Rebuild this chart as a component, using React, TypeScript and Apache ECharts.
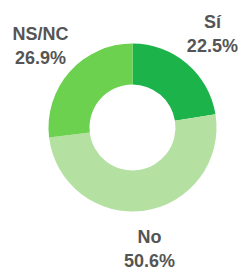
import React, { useEffect, useRef } from "react";
import * as echarts from "echarts";

const categories = ["Sí", "No", "NS/NC"];
const values = [22.5, 50.6, 26.9];
const colors = ["#1db34b", "#b4e0a2", "#6cd14f"];

export default function App() {
  const ref = useRef<HTMLDivElement>(null);
  useEffect(() => {
    if (!ref.current) return;
    const chart = echarts.init(ref.current, undefined, { renderer: "svg" });
    const data = categories.map((name, i) => ({
      name,
      value: values[i],
      itemStyle: { color: colors[i] },
    }));
    chart.setOption({
      animation: false,
      backgroundColor: "#ffffff",
      series: [
        {
          type: "pie",
          center: [132.5, 127.5],
          radius: [43, 84],
          startAngle: 90,
          clockwise: true,
          silent: true,
          label: { show: false },
          labelLine: { show: false },
          data,
        },
        {
          type: "pie",
          center: [132.5, 127.5],
          radius: [106, 134],
          startAngle: 90,
          clockwise: true,
          silent: true,
          itemStyle: { color: "rgba(0,0,0,0)" },
          label: {
            show: true,
            position: "inside",
            formatter: (p: any) => `${p.name}\n${p.value.toFixed(1)}%`,
            color: "#555555",
            fontSize: 18,
            fontWeight: "bold",
            fontFamily: "'Liberation Sans', Arial, sans-serif",
            lineHeight: 24,
            align: "center",
          },
          labelLine: { show: false },
          data: categories.map((name, i) => ({
            name,
            value: values[i],
            itemStyle: { color: "rgba(0,0,0,0)" },
          })),
        },
      ],
    });
    return () => chart.dispose();
  }, []);
  return (
    <div
      ref={ref}
      style={{ position: "absolute", left: 0, top: 0, width: 240, height: 271 }}
    />
  );
}
